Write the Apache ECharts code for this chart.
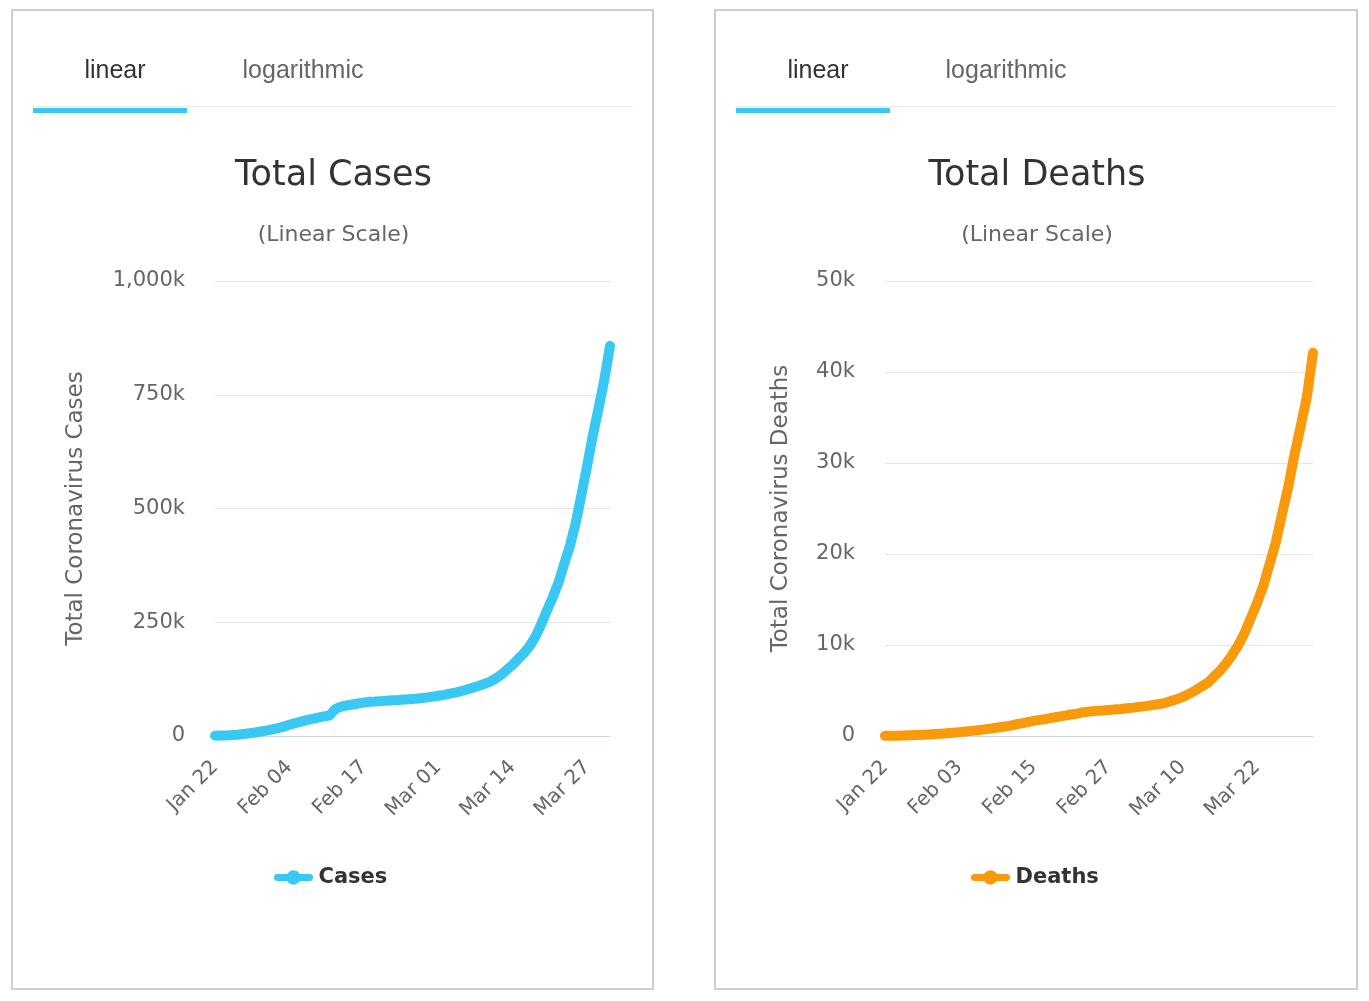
<!DOCTYPE html>
<html>
<head>
<meta charset="utf-8">
<script src="https://cdn.jsdelivr.net/npm/echarts@6/dist/echarts.min.js"></script>
<style>
html,body{margin:0;padding:0;background:#fff;}
#c{width:1369px;height:1001px;}
</style>
</head>
<body>
<div id="c"></div>
<script>
// ---- Data (Jan 22 - Mar 31) ----
const months = ['Jan', 'Feb', 'Mar'];
const monthStartDay = [22, 1, 1];
const monthEndDay = [31, 29, 31];
const dates = [];
for (let m = 0; m < months.length; m++) {
  for (let d = monthStartDay[m]; d <= monthEndDay[m]; d++) {
    dates.push(months[m] + ' ' + (d < 10 ? '0' + d : d));
  }
}
const totalCases = [
  580, 845, 1317, 2015, 2800, 4581, 6058, 7813, 9823, 11948,
  14551, 17389, 20628, 24553, 28276, 31439, 34876, 37552, 40553, 43099,
  45134, 59287, 64438, 67100, 69197, 71329, 73332, 75184, 75700, 76677,
  77673, 78651, 79205, 80087, 80828, 81820, 83112, 84615, 86604, 88585,
  90443, 93016, 95314, 98425, 102050, 106099, 109991, 114381, 118948, 126214,
  134576, 145483, 156653, 169593, 182490, 198238, 218822, 246088, 276113, 305036,
  336953, 378235, 418045, 467653, 529591, 593291, 660706, 720117, 782365, 857487
];
const totalDeaths = [
  17, 25, 41, 56, 80, 106, 132, 170, 213, 259,
  304, 362, 426, 492, 565, 638, 724, 813, 910, 1018,
  1115, 1261, 1383, 1526, 1669, 1775, 1873, 2009, 2126, 2247,
  2360, 2460, 2618, 2699, 2763, 2800, 2858, 2923, 2977, 3050,
  3117, 3202, 3285, 3387, 3494, 3599, 3827, 4025, 4296, 4628,
  4981, 5428, 5833, 6520, 7162, 7979, 8951, 10030, 11386, 13011,
  14640, 16514, 18891, 21283, 24350, 27353, 30874, 34007, 37231, 42107
];
const tabLabels = ['linear', 'logarithmic'];
const titles = ['Total Cases', 'Total Deaths'];
const subtitle = '(Linear Scale)';
const yNames = ['Total Coronavirus Cases', 'Total Coronavirus Deaths'];
const seriesNames = ['Cases', 'Deaths'];
const colors = ['#38c8f3', '#f99a0c'];

const FONT = '"DejaVu Sans", sans-serif';
const kfmt = v => v === 0 ? '0' : (v / 1000).toLocaleString('en-US') + 'k';

const chart = echarts.init(document.getElementById('c'));

const cards = [{x: 12, w: 641}, {x: 715, w: 642}];
const graphic = [];
cards.forEach((c, i) => {
  const cx = c.x + c.w / 2 + 1;
  graphic.push({type: 'rect', shape: {x: c.x, y: 10, width: c.w, height: 979},
    style: {fill: 'none', stroke: '#cfcfcf', lineWidth: 2}});
  graphic.push({type: 'rect', shape: {x: c.x + 21, y: 106, width: 600, height: 1},
    style: {fill: '#e8e8e8'}});
  graphic.push({type: 'rect', shape: {x: c.x + 21, y: 108, width: 154, height: 5},
    style: {fill: '#38c8f3'}});
  graphic.push({type: 'text', x: c.x + 103, y: 71, style: {text: tabLabels[0],
    font: '25px "Liberation Sans", Arial, sans-serif', fill: '#333', textAlign: 'center', textVerticalAlign: 'middle'}});
  graphic.push({type: 'text', x: c.x + 291, y: 71, style: {text: tabLabels[1],
    font: '25px "Liberation Sans", Arial, sans-serif', fill: '#666', textAlign: 'center', textVerticalAlign: 'middle'}});
  graphic.push({type: 'text', x: cx, y: 176, style: {text: titles[i],
    font: '35px ' + FONT, fill: '#333', textAlign: 'center', textVerticalAlign: 'middle'}});
  graphic.push({type: 'text', x: cx, y: 235, style: {text: subtitle,
    font: '22px ' + FONT, fill: '#666', textAlign: 'center', textVerticalAlign: 'middle'}});
});

function xAxis(gi, interval) {
  return {
    type: 'category', gridIndex: gi, data: dates, boundaryGap: false,
    axisLine: {lineStyle: {color: '#ccd6eb', width: 1}},
    axisTick: {show: false},
    axisLabel: {rotate: 45, interval: interval, color: '#666', fontSize: 20, fontFamily: FONT, margin: 28}
  };
}
function yAxis(gi, max, interval, name, gap) {
  return {
    type: 'value', gridIndex: gi, min: 0, max: max, interval: interval,
    name: name, nameLocation: 'middle', nameGap: gap, nameRotate: 90,
    nameTextStyle: {color: '#666', fontSize: 23, fontFamily: FONT},
    axisLine: {show: false}, axisTick: {show: false},
    splitLine: {lineStyle: {color: '#e6e6e6', width: 1}},
    axisLabel: {formatter: kfmt, color: '#666', fontSize: 21, fontFamily: FONT, margin: 30}
  };
}
function legend(name, left) {
  return {data: [name], left: left, top: 862, itemWidth: 32, itemHeight: 18,
    lineStyle: {width: 7}, itemStyle: {borderWidth: 0},
    textStyle: {fontSize: 21, fontWeight: 'bold', color: '#333', fontFamily: FONT, padding: [0, 0, 0, 4]}};
}

chart.setOption({
  animation: false,
  backgroundColor: '#fff',
  graphic: graphic,
  grid: [
    {left: 215, right: 1369 - 610, top: 281, bottom: 1001 - 736},
    {left: 885, right: 1369 - 1313, top: 281, bottom: 1001 - 736}
  ],
  xAxis: [xAxis(0, 12), xAxis(1, 11)],
  yAxis: [yAxis(0, 1000000, 250000, yNames[0], 127), yAxis(1, 50000, 10000, yNames[1], 92)],
  legend: [legend(seriesNames[0], 269), legend(seriesNames[1], 966)],
  series: [
    {name: seriesNames[0], type: 'line', xAxisIndex: 0, yAxisIndex: 0, data: totalCases,
     showSymbol: false, symbol: 'circle', color: colors[0],
     lineStyle: {width: 10, color: colors[0], cap: 'round', join: 'round'}},
    {name: seriesNames[1], type: 'line', xAxisIndex: 1, yAxisIndex: 1, data: totalDeaths,
     showSymbol: false, symbol: 'circle', color: colors[1],
     lineStyle: {width: 10, color: colors[1], cap: 'round', join: 'round'}}
  ]
});
</script>
</body>
</html>
